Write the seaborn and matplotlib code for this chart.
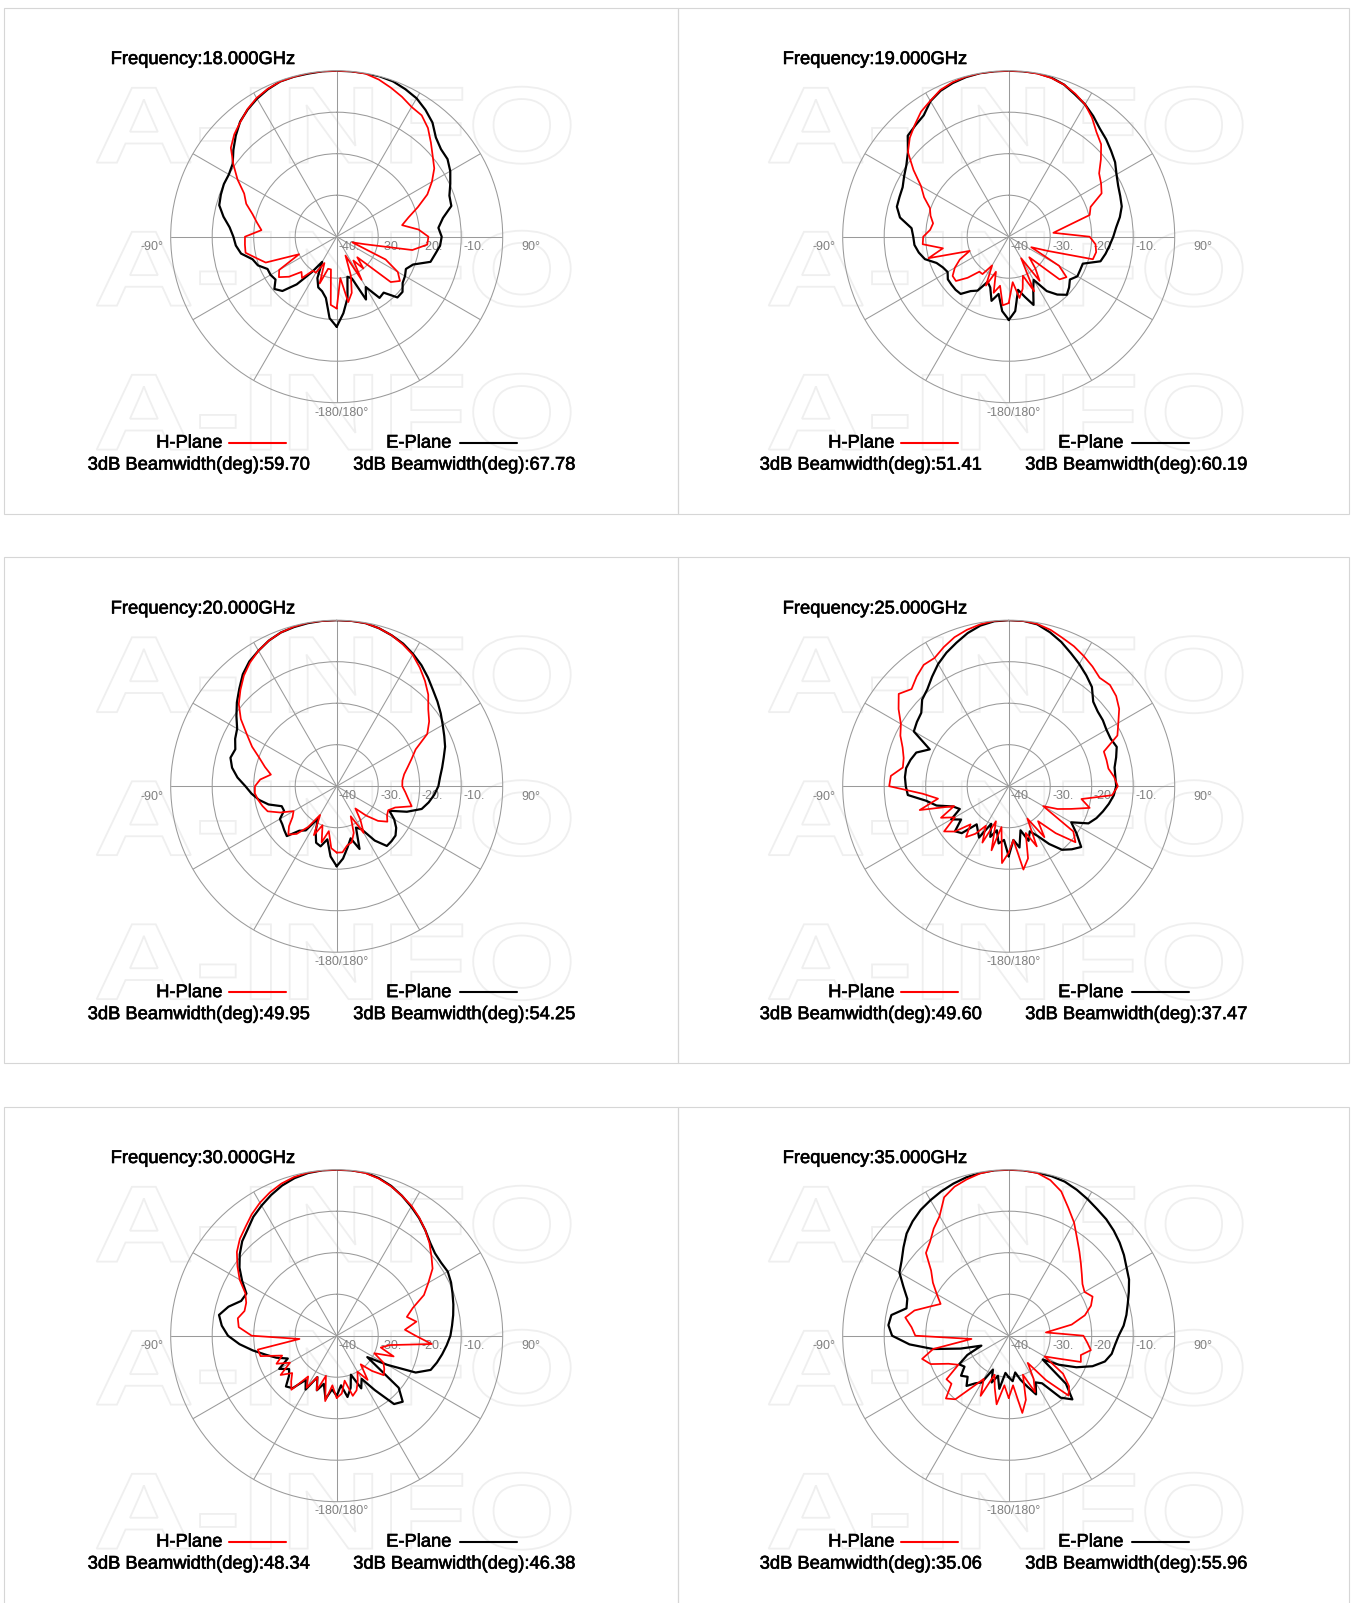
import numpy as np
import pandas as pd
import seaborn as sns
import matplotlib
matplotlib.use('Agg')
import matplotlib.pyplot as plt
import matplotlib.patheffects as pe
from matplotlib.textpath import TextPath
from matplotlib.font_manager import FontProperties
from matplotlib.patches import PathPatch, Rectangle
from matplotlib.path import Path
from matplotlib.lines import Line2D
from matplotlib.transforms import offset_copy

W, H = 1357, 1603

# angle in degrees, 0 = boresight (top), clockwise positive
ANGLES = np.arange(-180, 181, 5)

FREQS = ['18.000', '19.000', '20.000', '25.000', '30.000', '35.000']
BW_H = ['59.70', '51.41', '49.95', '49.60', '48.34', '35.06']
BW_E = ['67.78', '60.19', '54.25', '37.47', '46.38', '55.96']

# normalised gain in dB, one value per angle
e18 = [-18.3, -20.3, -25, -26.4, -27, -29, -33, -29.6, -25, -21.5, -20.4, -22,
       -21.6, -21.6, -19.8, -19, -16.6, -15.6, -15.1, -14.1, -12.3, -10.7, -10.3, -10,
       -10, -9.4, -7.5, -5.6, -3.8, -2.6, -1.6, -0.8, -0.2, -0.1, -0.1, 0,
       0, 0, 0, 0, -0.2, -0.8, -1.5, -2.7, -4.1, -6.2, -7.2, -7.4,
       -8.4, -9.8, -11.1, -11.4, -14, -15.4, -14.7, -15, -15.9, -16.6, -20.4, -21.6,
       -21, -20.6, -19.3, -19.3, -22.4, -22, -26, -23.3, -29.3, -30, -25, -21.5,
       -18.3]
h18 = [-22.7, -23.5, -32, -32, -28, -33, -30, -30, -27, -28, -25, -23,
       -24, -30, -21.8, -20, -17.7, -17.8, -17.9, -21.8, -20.5, -19, -16.8, -15.4,
       -12.4, -9.6, -6.7, -5.1, -3.9, -2.5, -1.4, -0.7, -0.2, -0.1, 0, 0,
       0, 0, -0.1, -0.8, -1.8, -2.8, -3.9, -4.3, -5.8, -7.9, -9.8, -11.3,
       -13.5, -15.9, -19.2, -22.1, -24, -20.2, -17.9, -18.1, -21.5, -33, -36, -27,
       -23, -21.4, -23, -33, -30, -33, -28, -35, -30, -26, -24, -30,
       -22.7]
e19 = [-20, -22, -26, -24, -27, -28, -25, -24, -22, -21.9, -22, -22.1,
       -23, -22.5, -21.5, -19.1, -18, -17.2, -17, -16.5, -13.4, -12.1, -12, -11.8,
       -10.9, -9.9, -8.3, -5.6, -5, -4.3, -2.3, -1.2, -0.6, -0.2, 0, 0,
       0, 0, 0, -0.3, -1, -2.2, -3.2, -4.5, -5.9, -6.8, -7.8, -8.7,
       -10, -10.9, -11.4, -11.8, -12.8, -14, -14.8, -15.6, -16.3, -17.1, -21, -21,
       -20.9, -22, -21, -20.2, -21.8, -24, -28, -26, -22.5, -25, -27, -22,
       -19.9]
h19 = [-24, -23.4, -28, -26, -31, -27, -32, -29, -29, -26, -23.4, -23.5,
       -25, -27, -30, -20, -23.9, -19.2, -19.4, -21, -21.5, -20.5, -19.8, -17.5,
       -15.6, -12, -8.3, -6.3, -4.8, -3.2, -2.2, -1, -0.4, -0.1, 0, 0,
       0, 0, -0.1, -0.4, -1, -2, -3.2, -5, -7.1, -8.5, -11, -13.4,
       -14.3, -15.3, -19, -19.8, -26, -29.2, -20.5, -19, -18.6, -19, -30, -34,
       -26, -23, -24, -33, -30, -27, -34, -25.5, -30, -27, -25, -29,
       -24]
e20 = [-20.7, -23, -27, -25, -25.5, -28, -31, -27, -26, -23, -23.5, -24,
       -24.2, -26, -25.9, -23, -21, -19.4, -18, -16, -14.4, -13.5, -14, -13,
       -12.3, -10.5, -8.6, -6.8, -4.8, -3.3, -2.3, -1.3, -0.6, -0.3, -0.1, 0,
       0, 0, -0.1, -0.6, -1.3, -2.1, -3.2, -4.4, -5.8, -7.2, -8.3, -9.4,
       -10.5, -11.4, -12.2, -13.3, -14.2, -15, -15.5, -16.4, -17.5, -18.8, -22, -26,
       -24, -22.5, -21.5, -21.3, -21.2, -24, -28, -29, -23.9, -27, -25, -22.5,
       -20.7]
h20 = [-24, -25, -29, -26, -30, -27, -32, -28, -25, -23.5, -25, -27,
       -28, -25, -22.3, -21.5, -20.8, -20.2, -20.3, -21.5, -23.9, -22.1, -20.2, -17.5,
       -15, -11.8, -9.2, -7.2, -5.2, -3.6, -2.3, -1.3, -0.6, -0.2, 0, 0,
       0, 0, -0.1, -0.6, -1.3, -2.3, -3.4, -5.1, -6.9, -8.8, -11.2, -12.8,
       -14.8, -19, -20.8, -22.3, -23.5, -24.1, -24.2, -23.4, -22.5, -21.3, -25, -26.3,
       -26, -25.1, -27, -30, -33, -30, -27, -32, -28, -26, -25.5, -24,
       -24]
e25 = [-23.1, -27, -26, -29, -27, -30, -25.7, -27, -28, -24, -23.1, -26,
       -24, -27, -25.7, -22, -19.8, -15.6, -15.2, -14.9, -14.9, -15.5, -16.3, -19,
       -13.6, -13, -12.5, -10.5, -9.5, -7.8, -6, -4.5, -3.2, -1.8, -0.7, -0.1,
       0, 0, -0.4, -1.6, -3, -4.6, -6, -7.4, -8.8, -11.2, -12, -12.3,
       -12.8, -12.9, -12.3, -13.2, -14.1, -14.2, -14.1, -14.6, -15.5, -16.5, -17.5, -18.8,
       -22.6, -20, -17.2, -18.5, -20, -23, -26.2, -28, -26, -29, -25, -27,
       -23.1]
h25 = [-24, -21.4, -30, -24, -31, -25, -29, -26, -24, -27, -23, -21,
       -25, -22, -26, -17.8, -22.7, -19.2, -11.2, -11.5, -14.1, -13.8, -12.8, -11.2,
       -10, -7.6, -5.4, -6.9, -5.5, -4.3, -4.3, -3, -1.8, -1, -0.4, 0,
       0, 0, -0.3, -1, -2, -2.8, -3.8, -4.8, -5.9, -5.5, -6.2, -7.5,
       -9.5, -11.1, -15.6, -15.6, -15.6, -14.5, -13.7, -15, -22.2, -19.8, -24, -27,
       -30.4, -21, -19, -24, -29, -25, -31, -24, -28, -22, -19.6, -27,
       -24]
e30 = [-25.5, -27, -24.5, -28, -26, -29, -25, -27, -23.5, -22.7, -25, -26,
       -24, -27, -24.5, -22.3, -19.5, -16.5, -13.8, -12.2, -11.2, -13, -15.5, -16,
       -13.7, -11.4, -9.5, -7.8, -6.6, -5, -3.8, -2.6, -1.5, -0.7, -0.2, 0,
       0, 0, -0.1, -0.7, -1.6, -2.8, -4.1, -5.4, -6.8, -8.2, -9.1, -9.3,
       -9.1, -9.6, -10.3, -10.9, -11.5, -12.1, -12.6, -13.4, -14.2, -15, -15.9, -19,
       -26, -31, -20.5, -17.5, -18.5, -24, -28, -26, -30, -27, -25, -28,
       -25.5]
h30 = [-25, -28, -24, -30, -26, -29, -25.5, -28, -23, -24.5, -26, -23.5,
       -27, -24, -26, -21, -20.7, -31, -19.5, -16.3, -15.8, -17, -16.8, -15.7,
       -13, -10.8, -8.6, -7, -5.8, -4.3, -3, -1.9, -1, -0.4, -0.1, 0,
       0, 0, -0.2, -0.8, -1.7, -2.8, -3.9, -5.3, -6.8, -8.4, -10.2, -11.8,
       -14.5, -16.8, -20.5, -22.5, -20.5, -23.5, -21, -17, -27, -29, -25.4, -30,
       -27, -26, -25.2, -28, -31, -27, -30, -28, -26, -25, -29, -26,
       -25]
e35 = [-30, -31, -27, -30, -28, -31, -27, -26, -24.2, -26, -25, -27,
       -26.2, -29, -33, -28, -21.5, -16, -11.9, -10.9, -11.3, -14.5, -14, -12,
       -9.6, -8.5, -6.9, -5.2, -4, -3, -2.3, -1.6, -1, -0.5, -0.2, 0,
       0, 0, -0.1, -0.2, -0.5, -1.2, -2, -2.8, -3.4, -4.2, -5.1, -6.1,
       -7.2, -8, -9.2, -10.3, -11.2, -12.2, -13.5, -14.3, -14.8, -16, -18.5, -22,
       -26, -30, -22, -18.3, -20.5, -26, -27, -24.4, -27, -29, -31, -29,
       -30]
h35 = [-25, -28, -23.2, -27, -30, -24, -28, -25, -20, -18.6, -22, -21.7,
       -26, -24, -20, -18.4, -21.5, -31, -17.5, -16.5, -14.7, -16.5, -19.6, -21.9,
       -20, -17.7, -15.6, -11.8, -10.5, -8.5, -6.7, -3.2, -1.8, -1, -0.3, 0,
       0, 0, -0.2, -1.2, -3, -6, -8.5, -11.3, -13.5, -15.4, -17, -18.3,
       -18.9, -17.7, -18.9, -21, -24.6, -31, -22, -21, -19.9, -22, -21.5, -27,
       -30, -24, -21, -19.6, -26, -32, -28, -25, -30, -24, -21.1, -28,
       -25]

E_PLANE = [e18, e19, e20, e25, e30, e35]
H_PLANE = [h18, h19, h20, h25, h30, h35]

RINGS = [-10, -20, -30, -40]

sns.set_theme(style='white')
plt.rcParams['font.family'] = ['Liberation Sans', 'DejaVu Sans']

R = 166
COL_CX = [336.7, 1008.7]
ROW_CY = [236.7, 786.2, 1335.7]
COL_EDGES = [4, 678, 1349]
ROW_TOPS = [8, 557.5, 1107]
PANEL_H = 505.5
TXT = 13.2
SMALL = 9
GRID = '#9a9a9a'
LABEL_GRAY = '#808080'
HEAVY = [pe.withStroke(linewidth=0.45, foreground='black')]


def fx(x):
    return x / W


def fy(y):
    return 1 - y / H


fig = plt.figure(figsize=(W / 100, H / 100), dpi=100)
fig.patch.set_facecolor('white')

WM_PATH = TextPath((0, 0), 'A-INFO', size=100,
                   prop=FontProperties(family='Liberation Sans', weight='bold'))
WM_EXT = WM_PATH.get_extents()


def watermark(x0, x1, ytop, ybot):
    v = WM_PATH.vertices
    sx = (x1 - x0) / WM_EXT.width
    sy = (ybot - ytop) / WM_EXT.height
    px = x0 + (v[:, 0] - WM_EXT.x0) * sx
    py = ybot - (v[:, 1] - WM_EXT.y0) * sy
    verts = np.column_stack([px / W, 1 - py / H])
    fig.add_artist(PathPatch(Path(verts, WM_PATH.codes), transform=fig.transFigure,
                             fc='none', ec='#efefef', lw=1.3, zorder=-10))


def ftext(x, y, s, **kw):
    fig.text(fx(x), fy(y), s, ha='left', va='baseline', **kw)


for i in range(6):
    row, col = divmod(i, 2)
    cx, cy = COL_CX[col], ROW_CY[row]

    # panel frame
    x0, x1 = COL_EDGES[col], COL_EDGES[col + 1]
    y0 = ROW_TOPS[row]
    fig.add_artist(Rectangle((fx(x0), fy(y0 + PANEL_H)), (x1 - x0) / W, PANEL_H / H,
                             transform=fig.transFigure, fill=False, ec='#d6d6d6',
                             lw=0.8, zorder=-20))

    for yt, yb in [(-150, -73), (-6, 70), (137, 214)]:
        watermark(cx - 240, cx + 234, cy + yt, cy + yb)

    ax = fig.add_axes([fx(cx - R), fy(cy + R), 2 * R / W, 2 * R / H], projection='polar')
    ax.set_facecolor('none')
    ax.set_theta_zero_location('N')
    ax.set_theta_direction(-1)

    df = pd.DataFrame({'theta': np.deg2rad(ANGLES), 'E': E_PLANE[i], 'H': H_PLANE[i]})
    sns.lineplot(data=df, x='theta', y='E', ax=ax, sort=False, estimator=None,
                 color='black', lw=1.6)
    sns.lineplot(data=df, x='theta', y='H', ax=ax, sort=False, estimator=None,
                 color='#ff0000', lw=1.25)

    ax.set_ylim(-40, 0)
    ax.set_xticks(np.deg2rad(np.arange(0, 360, 30)))
    ax.set_xticklabels([])
    ax.set_yticks([-30, -20, -10])
    ax.set_yticklabels([])
    ax.grid(True, color=GRID, lw=0.75)
    ax.spines['polar'].set_color(GRID)
    ax.spines['polar'].set_linewidth(0.75)
    ax.tick_params(length=0)
    ax.set_xlabel('')
    ax.set_ylabel('')

    # ring labels along the 90 degree spoke
    off = offset_copy(ax.transData, fig=fig, x=2, y=-13, units='dots')
    for r in RINGS:
        ax.text(np.pi / 2, r, f'{r}.', transform=off, ha='left', va='baseline',
                fontsize=SMALL, color=LABEL_GRAY, clip_on=False, zorder=1)

    ftext(cx - 196, cy + 13.5, '-90°', fontsize=SMALL, color=LABEL_GRAY)
    ftext(cx + 184.5, cy + 13.5, '90°', fontsize=SMALL, color=LABEL_GRAY)
    ftext(cx - 22, cy + 178.8, '-180/180°', fontsize=SMALL, color=LABEL_GRAY)

    ftext(cx - 226, cy - 172.7, f'Frequency:{FREQS[i]}GHz', fontsize=TXT,
          color='black', path_effects=HEAVY)
    ftext(cx - 180.5, cy + 210.9, 'H-Plane', fontsize=TXT, color='black', path_effects=HEAVY)
    ftext(cx + 49.5, cy + 210.9, 'E-Plane', fontsize=TXT, color='black', path_effects=HEAVY)
    ftext(cx - 249, cy + 232.9, f'3dB Beamwidth(deg):{BW_H[i]}', fontsize=TXT,
          color='black', path_effects=HEAVY)
    ftext(cx + 16.5, cy + 232.9, f'3dB Beamwidth(deg):{BW_E[i]}', fontsize=TXT,
          color='black', path_effects=HEAVY)

    fig.add_artist(Line2D([fx(cx - 108), fx(cx - 51)], [fy(cy + 206), fy(cy + 206)],
                          transform=fig.transFigure, color='#ff0000', lw=1.5))
    fig.add_artist(Line2D([fx(cx + 123.5), fx(cx + 180)], [fy(cy + 206), fy(cy + 206)],
                          transform=fig.transFigure, color='black', lw=1.5))

fig.savefig('out.png', dpi=100, facecolor='white')
